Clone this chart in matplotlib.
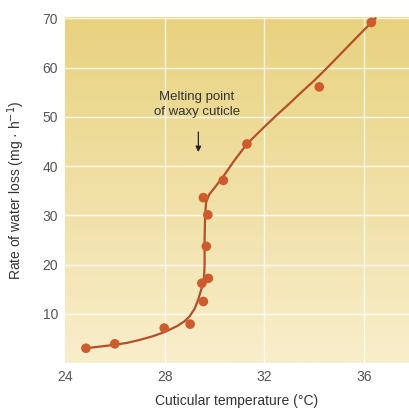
import matplotlib.pyplot as plt
import numpy as np
from matplotlib.colors import LinearSegmentedColormap

plt.rcParams['font.family'] = ['Liberation Sans', 'DejaVu Sans']

# measured points
temp = [24.84, 26.0, 27.98, 29.02, 29.55, 29.49, 29.75, 29.67, 29.73, 29.55,
        30.35, 31.3, 34.2, 36.29]
rate = [3.0, 3.9, 7.1, 7.9, 12.5, 16.2, 17.2, 23.7, 30.1, 33.6,
        37.1, 44.5, 56.1, 69.2]

# fitted curve
curve_t = [24.85, 25.5, 26.0, 26.5, 27.0, 27.5, 28.0, 28.5, 28.8, 29.0, 29.2,
           29.35, 29.5, 29.58, 29.6, 29.6, 29.62, 29.66, 29.78, 30.0, 30.35,
           30.8, 31.3, 32.0, 32.5, 33.0, 33.5, 34.0, 34.5, 35.0, 35.5,
           36.0, 36.3, 36.45]
curve_r = [3.0, 3.4, 3.7, 4.1, 4.7, 5.4, 6.3, 7.5, 8.5, 9.5, 11.0,
           13.0, 15.5, 17.5, 20.0, 25.0, 30.0, 32.6, 34.2, 35.6, 37.9,
           41.2, 44.5, 48.0, 50.4, 52.7, 55.1, 57.4, 59.9, 62.5, 65.1,
           67.7, 69.2, 70.0]

xticks = [24, 28, 32, 36]
yticks = [10, 20, 30, 40, 50, 60, 70]

fig = plt.figure(figsize=(4.09, 4.13), dpi=100)
ax = fig.add_axes([65 / 409, 1 - 363 / 413, 1 - 65 / 409, (363 - 17) / 413])
ax.set_xlim(24, 37.8)
ax.set_ylim(0, 70.3)

# yellow gradient background
bg = LinearSegmentedColormap.from_list('bg', ['#f8eecb', '#e8d27f'])
ax.imshow(np.linspace(0, 1, 256).reshape(-1, 1), cmap=bg, aspect='auto',
          origin='lower', extent=[0, 1, 0, 1], transform=ax.transAxes, zorder=0)

for x in xticks[1:]:
    ax.axvline(x, color='white', lw=1.0, alpha=0.8, zorder=1)
for y in yticks:
    ax.axhline(y, color='white', lw=1.0, alpha=0.8, zorder=1)

ax.plot(curve_t, curve_r, color='#b4502a', lw=1.6, zorder=2)
ax.scatter(temp, rate, s=48, color='#cf5a2c', edgecolors='none', zorder=3)

ax.text(29.3, 52.5, 'Melting point\nof waxy cuticle', ha='center', va='center',
        fontsize=9.5, color='#333333', linespacing=1.25)
ax.annotate('', xy=(29.35, 42.3), xytext=(29.35, 47.5),
            arrowprops=dict(arrowstyle='-|>', color='#222222', lw=0.9,
                            mutation_scale=8))

ax.set_xticks(xticks)
ax.set_yticks(yticks)
ax.tick_params(length=0, labelsize=10, labelcolor='#555555', pad=5)
for s in ax.spines.values():
    s.set_visible(False)

ax.set_xlabel('Cuticular temperature (°C)', fontsize=10, color='#333333',
              labelpad=7)
ax.set_ylabel('Rate of water loss (mg · h$^{-1}$)', fontsize=10,
              color='#333333', labelpad=11)

fig.savefig('out.png', dpi=100)
